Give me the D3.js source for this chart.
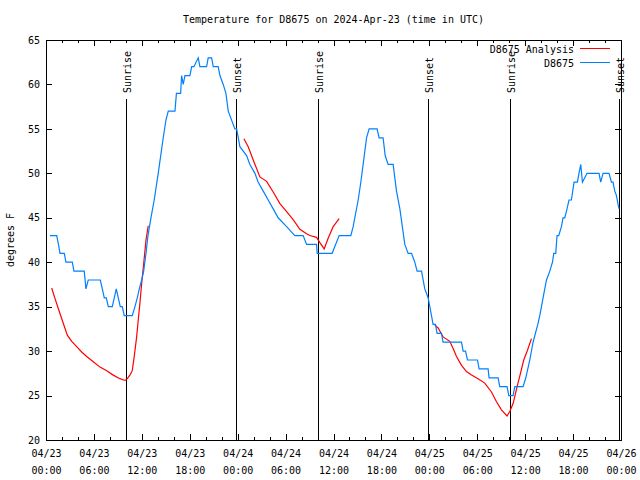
<!DOCTYPE html>
<html><head><meta charset="utf-8">
<script src="https://cdn.jsdelivr.net/npm/d3@7/dist/d3.min.js"></script>
<style>
body{margin:0;background:#fff;}
svg{display:block;}
text{font-family:"DejaVu Sans Mono",monospace;font-size:10px;fill:#000;}
</style></head>
<body>
<svg id="c" width="640" height="480"></svg>
<script>
// ---- data (hours since 2024-04-23 00:00 UTC) ----
const obsHours = [0.5,1.34,1.56,1.75,2.29,2.5,3.29,3.5,4.79,5.0,5.29,6.8,7.05,7.3,7.55,7.8,8.3,8.8,9.3,9.55,9.8,10.8,11.14,11.43,11.68,11.98,12.23,12.52,12.77,13.14,13.55,14.05,14.68,15.02,15.31,16.15,16.33,16.86,16.98,17.18,17.4,18.02,18.24,18.52,19.06,19.27,20.11,20.31,20.74,20.94,21.56,21.78,22.19,22.53,22.82,23.65,23.87,24.28,25.12,25.53,26.16,26.57,27.2,27.82,28.45,29.07,30.13,31.16,32.2,32.63,33.88,33.96,35.83,36.71,38.17,38.46,39.09,39.42,39.71,40.14,40.46,41.46,41.71,42.21,42.47,42.84,43.47,43.89,44.31,44.93,45.34,45.77,46.18,46.47,47.02,47.43,47.85,48.06,48.27,48.47,48.77,48.97,49.52,49.72,52.03,52.23,52.53,52.78,54.03,54.23,55.36,55.48,56.61,56.82,57.73,57.95,58.49,58.7,59.74,60.08,60.58,60.99,61.58,61.83,62.24,62.67,63.08,63.42,63.58,63.83,63.99,64.2,64.54,64.74,64.96,65.24,65.49,65.79,66.12,66.54,66.74,66.96,67.17,67.46,67.75,69.25,69.46,69.75,70.5,70.8,71.0,71.22,71.43,71.63,71.76];
const obsTemps = [43,43,42,41,41,40,40,39,39,37,38,38,37,36,36,35,35,37,35,35,34,34,35,36,37,38,39,41,43,45,47,50,54,56,57,57,59,59,61,60,61,61,62,62,63,62,62,63,63,62,62,61,60,59,57,55,55,53,52,51,50,49,48,47,46,45,44,43,43,42,42,41,41,43,43,44,47,49,51,54,55,55,54,54,52,51,51,48,46,42,41,41,40,39,39,37,36,35,34,33,33,32,32,31,31,30,30,29,29,28,28,27,27,26,26,25,25,26,26,27,29,31,33,34,36,38,39,40,41,41,43,43,44,45,45,46,47,47,49,49,50,51,49,49.5,50,50,49,50,50,49,49,48,47.5,46.5,46];

const anaHours1 = [0.71,1.13,1.54,2.17,2.67,3.22,3.84,4.47,5.09,5.92,6.76,7.6,8.42,9.26,9.89,10.18,10.51,10.8,11.05,11.35,11.55,11.76,11.98,12.27,12.52,12.8];
const anaTemps1 = [37.1,35.9,34.8,33.1,31.8,31.1,30.5,29.9,29.4,28.8,28.2,27.8,27.3,26.9,26.7,26.9,27.3,27.8,29.4,31.6,33.5,35.4,37.6,40.2,42.5,44.1];
const anaHours2 = [24.78,25.32,25.95,26.78,27.62,28.45,29.29,30.13,30.95,31.79,32.63,33.04,33.88,34.29,34.83,35.33,35.96,36.71];
const anaTemps2 = [53.9,53.0,51.5,49.6,49.1,47.9,46.6,45.7,44.8,43.7,43.2,43.0,42.8,42.2,41.5,42.7,44.0,44.9];
const anaHours3 = [48.69,49.1,49.72,50.56,50.98,51.4,52.03,52.65,53.28,54.1,54.94,55.78,56.41,57.03,57.73,58.07,58.49,58.99,59.41,59.82,60.29,60.79];
const anaTemps3 = [32.9,32.6,31.6,31.1,30.3,29.4,28.4,27.7,27.3,26.9,26.4,25.4,24.3,23.4,22.7,23.2,24.1,26.0,27.5,29.0,30.1,31.4];

const sunHours = [10.0, 23.75, 34.02, 47.8, 58.07, 71.72];
const sunLabels = ["Sunrise","Sunset","Sunrise","Sunset","Sunrise","Sunset"];
const yTicks = [20,25,30,35,40,45,50,55,60,65];
const seriesNames = ["D8675 Analysis","D8675"];
const seriesColors = ["#ff0000","#0080ff"];
const titleText = "Temperature for D8675 on 2024-Apr-23 (time in UTC)";
const yLabel = "degrees F";

// ---- layout ----
const L = 46, R = 621, T = 40, B = 440;
const t0 = Date.UTC(2024,3,23,0,0);
const toDate = h => new Date(t0 + h*3600e3);
const x = d3.scaleUtc().domain([toDate(0), toDate(72)]).range([L, R]);
const y = d3.scaleLinear().domain([20,65]).range([B, T]);

const svg = d3.select("#c");

// title
svg.append("text").attr("x",(L+R)/2).attr("y",23).attr("text-anchor","middle").text(titleText);
// y label
svg.append("text").attr("transform",`translate(14,${(T+B)/2}) rotate(-90)`).attr("text-anchor","middle").text(yLabel);

// axes ticks
const major = d3.range(0,73,6).map(toDate);
const minor = d3.range(0,73,2).filter(h=>h%6!==0).map(toDate);
const fmtD = d3.utcFormat("%m/%d"), fmtH = d3.utcFormat("%H:%M");

function ticksX(g, vals, len, dir){
  g.selectAll(null).data(vals).enter().append("line")
    .attr("x1",d=>Math.round(x(d))+0.5).attr("x2",d=>Math.round(x(d))+0.5)
    .attr("y1",dir>0?B:T).attr("y2",dir>0?B-len:T+len)
    .attr("stroke","#000");
}
const gt = svg.append("g");
ticksX(gt, major, 6, 1); ticksX(gt, major, 6, -1);
ticksX(gt, minor, 3, 1); ticksX(gt, minor, 3, -1);

// bottom axis labels via d3 axis
const xAxis = d3.axisBottom(x).tickValues(major).tickSize(0).tickPadding(0).tickFormat("");
const gx = svg.append("g").attr("transform",`translate(0,${B})`).call(xAxis);
gx.select(".domain").remove();
gx.selectAll(".tick").each(function(d){
  const t = d3.select(this).append("text").attr("text-anchor","middle").attr("fill","#000")
    .style("font-family",'"DejaVu Sans Mono",monospace').style("font-size","10px");
  t.append("tspan").attr("x",0).attr("y",17).text(fmtD(d));
  t.append("tspan").attr("x",0).attr("y",34).text(fmtH(d));
});

const yAxis = d3.axisLeft(y).tickValues(yTicks).tickSize(0).tickPadding(6);
const gy = svg.append("g").attr("transform",`translate(${L},0)`).call(yAxis);
gy.select(".domain").remove();
gy.selectAll("text").style("font-family",'"DejaVu Sans Mono",monospace').style("font-size","10px").attr("fill","#000");
gt.selectAll(null).data(yTicks).enter().append("line")
  .attr("x1",L).attr("x2",L+6).attr("y1",d=>Math.round(y(d))+0.5).attr("y2",d=>Math.round(y(d))+0.5).attr("stroke","#000");
gt.selectAll(null).data(yTicks).enter().append("line")
  .attr("x1",R).attr("x2",R-6).attr("y1",d=>Math.round(y(d))+0.5).attr("y2",d=>Math.round(y(d))+0.5).attr("stroke","#000");

// sun lines
const gs = svg.append("g");
sunHours.forEach((h,i)=>{
  const xx = Math.round(x(toDate(h)))+0.5;
  gs.append("line").attr("x1",xx).attr("x2",xx).attr("y1",99).attr("y2",B).attr("stroke","#000");
  gs.append("text").attr("transform",`translate(${xx+4},93) rotate(-90)`).attr("text-anchor","start").text(sunLabels[i]);
});

// series
const line = d3.line().x(d=>x(toDate(d[0]))).y(d=>y(d[1]));
const zip = (a,b)=>a.map((v,i)=>[v,b[i]]);
[[anaHours1,anaTemps1],[anaHours2,anaTemps2],[anaHours3,anaTemps3]].forEach(([h,t])=>{
  svg.append("path").attr("d",line(zip(h,t))).attr("fill","none").attr("stroke",seriesColors[0]).attr("stroke-width",1.2);
});
svg.append("path").attr("d",line(zip(obsHours,obsTemps))).attr("fill","none").attr("stroke",seriesColors[1]).attr("stroke-width",1.2);

// border
svg.append("rect").attr("x",L+0.5).attr("y",T+0.5).attr("width",R-L).attr("height",B-T).attr("fill","none").attr("stroke","#000");

// legend
seriesNames.forEach((n,i)=>{
  const yy = 50 + i*14;
  svg.append("text").attr("x",574).attr("y",yy+3).attr("text-anchor","end").text(n);
  svg.append("line").attr("x1",580).attr("x2",610).attr("y1",yy-1.5).attr("y2",yy-1.5).attr("stroke",seriesColors[i]);
});
</script>
</body></html>
